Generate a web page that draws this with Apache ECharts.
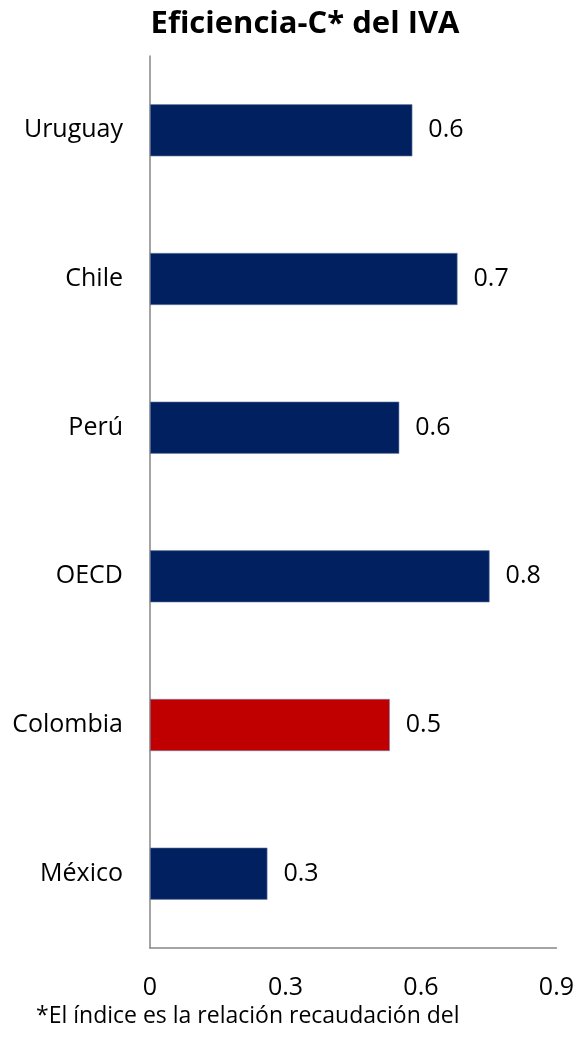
<!DOCTYPE html>
<html>
<head>
<meta charset="utf-8">
<style>
  html, body { margin: 0; padding: 0; background: #fff; }
  #chart { width: 577px; height: 1038px; }
</style>
<script src="https://cdn.jsdelivr.net/npm/echarts@6/dist/echarts.min.js"></script>
</head>
<body>
<div id="chart"></div>
<script>
// Categories listed bottom-to-top (category axis runs upward)
const countries = ['México', 'Colombia', 'OECD', 'Perú', 'Chile', 'Uruguay'];
const cEfficiency = [0.26, 0.531, 0.752, 0.552, 0.681, 0.581];
const barColors = ['#002060', '#C00000', '#002060', '#002060', '#002060', '#002060'];
const xTicks = [0, 0.3, 0.6, 0.9];

const fontFamily = '"Open Sans", Lato, sans-serif';
const chart = echarts.init(document.getElementById('chart'));

chart.setOption({
  animation: false,
  title: {
    text: 'Eficiencia-C* del IVA',
    left: 300,
    textAlign: 'center',
    top: 4,
    textStyle: { fontFamily, fontWeight: 'bold', fontSize: 31, color: '#000' }
  },
  graphic: [{
    type: 'text',
    left: 36,
    top: 1005,
    style: {
      text: '*El índice es la relación recaudación del',
      font: '23px ' + fontFamily,
      fill: '#000'
    }
  }],
  grid: { left: 150, right: 20, top: 56, bottom: 90, containLabel: false },
  xAxis: {
    type: 'value',
    min: xTicks[0],
    max: xTicks[xTicks.length - 1],
    interval: 0.3,
    splitLine: { show: false },
    axisTick: { show: false },
    axisLine: { show: true, lineStyle: { color: '#868686', width: 1.5 } },
    axisLabel: {
      fontFamily, fontSize: 25, color: '#000', margin: 27,
      formatter: v => (v === 0 ? '0' : v.toFixed(1))
    }
  },
  yAxis: {
    type: 'category',
    data: countries,
    axisTick: { show: false },
    axisLine: { show: true, lineStyle: { color: '#868686', width: 1.5 } },
    axisLabel: { fontFamily, fontSize: 25, color: '#000', margin: 27 }
  },
  series: [{
    type: 'bar',
    barWidth: '35%',
    data: cEfficiency.map((v, i) => ({
      value: v,
      itemStyle: { color: barColors[i], borderColor: '#6f7fa6', borderWidth: 0.6 }
    })),
    label: {
      show: true,
      position: 'right',
      distance: 16,
      fontFamily, fontSize: 25, color: '#000',
      formatter: p => p.value.toFixed(1)
    }
  }]
});
</script>
</body>
</html>
